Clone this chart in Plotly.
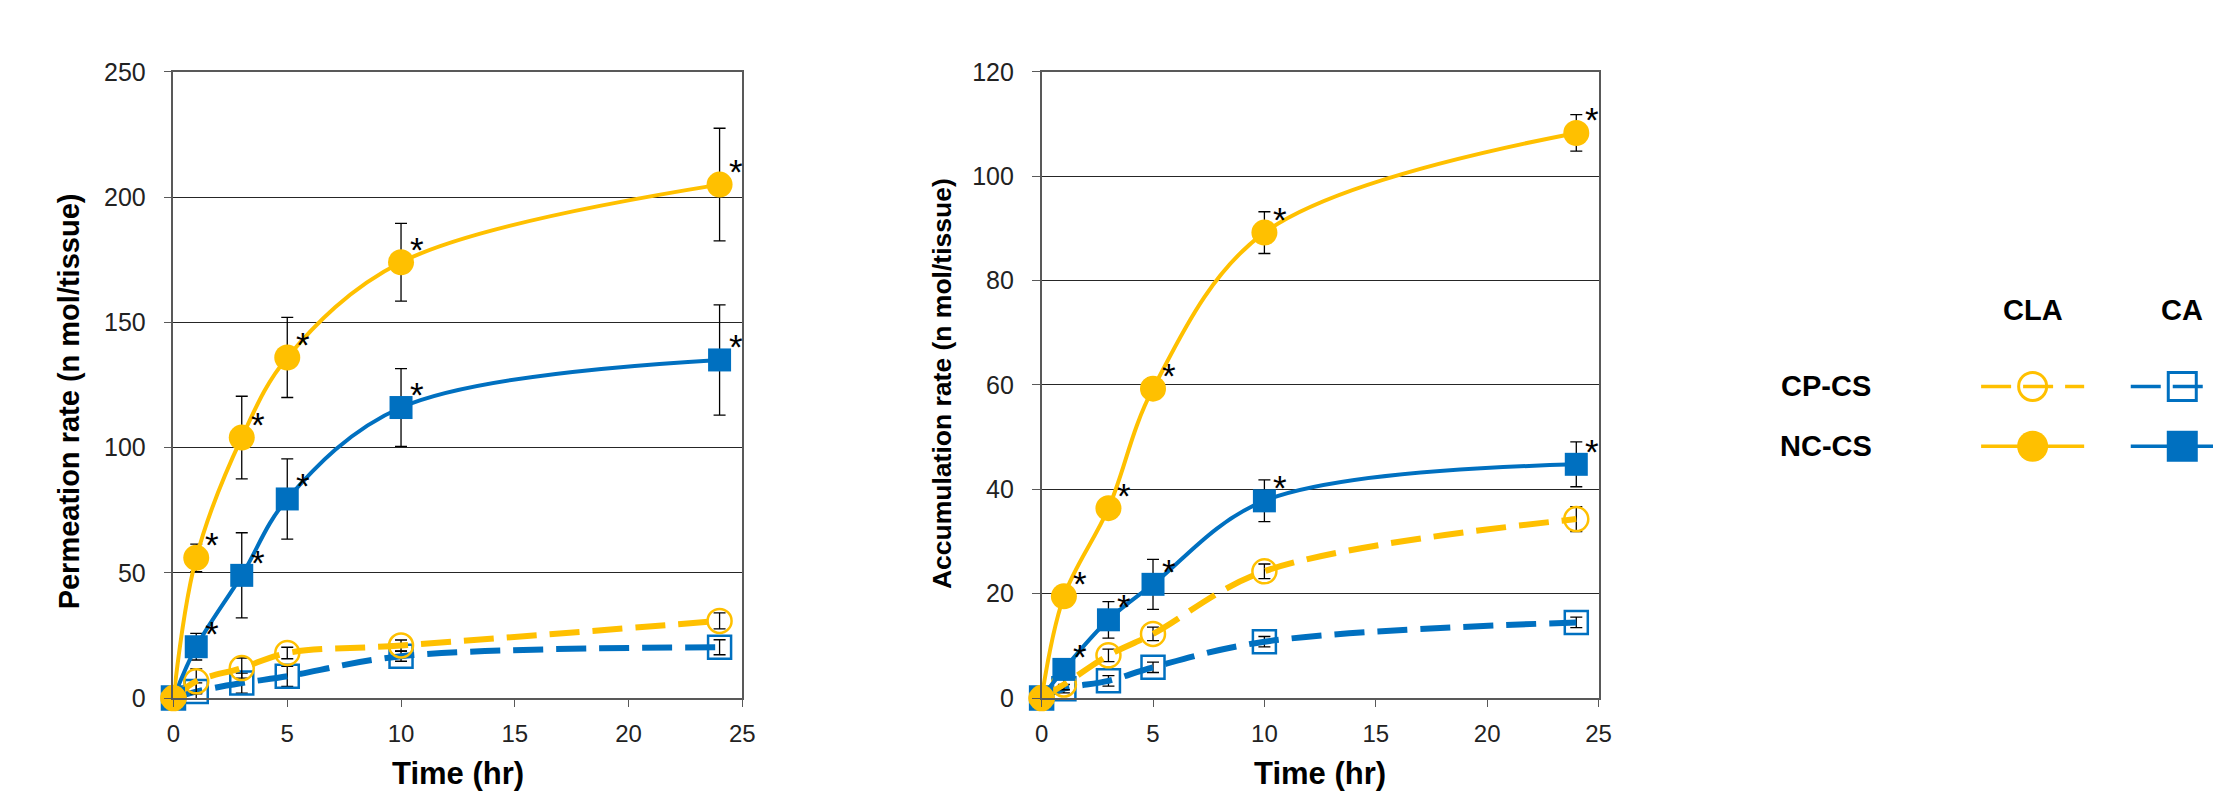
import plotly.graph_objects as go

# ---------------- data ----------------
time_hr = [0, 1, 3, 5, 10, 24]

# Permeation rate (n mol/tissue)
perm_cla_nc = [0, 56, 104, 136, 174, 205]
perm_cla_nc_err = [0, 5.5, 16.5, 16, 15.5, 22.5]
perm_ca_nc = [0, 20.5, 49, 79.5, 116, 135]
perm_ca_nc_err = [0, 5.3, 17, 16, 15.5, 22]
perm_cla_cp = [0, 6.7, 12, 18, 21, 30.8]
perm_cla_cp_err = [0, 5, 4, 2.3, 2.2, 3.2]
perm_ca_cp = [0, 2.6, 6, 8.7, 16.7, 20.3]
perm_ca_cp_err = [0, 3.5, 4, 4, 2, 3]

# Accumulation rate (n mol/tissue)
acc_cla_nc = [0, 19.5, 36.4, 59.3, 89.2, 108.3]
acc_cla_nc_err = [0, 1, 1, 2, 4, 3.5]
acc_ca_nc = [0, 5.5, 15, 21.8, 37.8, 44.8]
acc_ca_nc_err = [0, 1, 3.5, 4.8, 4, 4.3]
acc_cla_cp = [0, 2.6, 8.2, 12.3, 24.3, 34.3]
acc_cla_cp_err = [0, 1, 1.2, 1.3, 1.4, 2.4]
acc_ca_cp = [0, 1.8, 3.3, 5.9, 10.8, 14.5]
acc_ca_cp_err = [0, 0.8, 1, 1, 1, 1]

# significance markers (*) on NC-CS points
sig_flags = [False, True, True, True, True, True]

x_ticks = [0, 5, 10, 15, 20, 25]
perm_ticks = [0, 50, 100, 150, 200, 250]
acc_ticks = [0, 20, 40, 60, 80, 100, 120]

row_labels = ["CP-CS", "NC-CS"]
col_labels = ["CLA", "CA"]

# ---------------- styles ----------------
W, H = 2226, 797
YELLOW = "#FFC000"
BLUE = "#0070C0"
AXIS_COL = "#595959"
GRID_COL = "#262626"
SANS = "Liberation Sans, Arial, sans-serif"
NARROW = "Liberation Sans Narrow, Arial Narrow, Liberation Sans, Arial, sans-serif"
LEG_X0 = 1700


def pxx(p):
    return p / W


def pxy(p):
    return 1 - p / H


def err(arr):
    return dict(type="data", array=arr, color="black", thickness=1.3, width=6, visible=True)


def series(x, y, e, color, dashed, filled, symbol, xa, ya, size):
    if filled:
        marker = dict(symbol=symbol, size=size, color=color, line=dict(width=0))
    else:
        marker = dict(symbol=symbol + "-open", size=size - 2, color=color, line=dict(width=2.5, color=color))
    line = dict(color=color, shape="spline", smoothing=1,
                width=6 if dashed else 4, dash="30px,13px" if dashed else "solid")
    return go.Scatter(x=x, y=y, error_y=err(e), mode="lines+markers", line=line, marker=marker,
                      xaxis=xa, yaxis=ya, cliponaxis=False, showlegend=False, hoverinfo="skip")


fig = go.Figure()

panels = [
    ("x", "y", perm_ca_cp, perm_ca_cp_err, perm_cla_cp, perm_cla_cp_err,
     perm_ca_nc, perm_ca_nc_err, perm_cla_nc, perm_cla_nc_err),
    ("x2", "y2", acc_ca_cp, acc_ca_cp_err, acc_cla_cp, acc_cla_cp_err,
     acc_ca_nc, acc_ca_nc_err, acc_cla_nc, acc_cla_nc_err),
]

annotations = []
for xa, ya, cacp, cacpe, clacp, clacpe, canc, cance, clanc, clance in panels:
    fig.add_trace(series(time_hr, cacp, cacpe, BLUE, True, False, "square", xa, ya, 25))
    fig.add_trace(series(time_hr, clacp, clacpe, YELLOW, True, False, "circle", xa, ya, 26))
    fig.add_trace(series(time_hr, canc, cance, BLUE, False, True, "square", xa, ya, 23))
    fig.add_trace(series(time_hr, clanc, clance, YELLOW, False, True, "circle", xa, ya, 26))
    for ys in (canc, clanc):
        for xv, yv, s in zip(time_hr, ys, sig_flags):
            if s:
                annotations.append(dict(x=xv, y=yv, xref=xa, yref=ya, text="*", showarrow=False,
                                        xshift=16, yshift=13,
                                        font=dict(family=SANS, size=35, color="black")))

# ---------------- legend (custom grid) ----------------
leg_col_x = [2044, 2195]
leg_row_y = [386, 448]
leg_half = [52, 52]
leg_colors = [YELLOW, BLUE]
leg_symbols = ["circle", "square"]
for ci in range(2):
    for ri in range(2):
        cx = leg_col_x[ci]
        cy = leg_row_y[ri]
        dashed = ri == 0
        if dashed:
            marker = dict(symbol=leg_symbols[ci] + "-open", size=28, color=leg_colors[ci],
                          line=dict(width=3, color=leg_colors[ci]))
        else:
            marker = dict(symbol=leg_symbols[ci], size=31, color=leg_colors[ci], line=dict(width=0))
        fig.add_trace(go.Scatter(x=[cx - leg_half[ci], cx + leg_half[ci]], y=[cy, cy], mode="lines",
                                 line=dict(color=leg_colors[ci], width=3.5,
                                           dash="30px,12px" if dashed else "solid"),
                                 xaxis="x3", yaxis="y3", cliponaxis=False, showlegend=False, hoverinfo="skip"))
        fig.add_trace(go.Scatter(x=[cx], y=[cy], mode="markers", marker=marker,
                                 xaxis="x3", yaxis="y3", cliponaxis=False, showlegend=False, hoverinfo="skip"))

for lbl, cx in zip(col_labels, leg_col_x):
    annotations.append(dict(x=pxx(cx), y=pxy(307), xref="paper", yref="paper", text=lbl, showarrow=False,
                            xanchor="center", yanchor="middle",
                            font=dict(family=SANS, size=29, color="black", weight="bold")))
for lbl, cy in zip(row_labels, leg_row_y):
    annotations.append(dict(x=pxx(1835), y=pxy(cy), xref="paper", yref="paper", text=lbl, showarrow=False,
                            xanchor="center", yanchor="middle",
                            font=dict(family=SANS, size=29, color="black", weight="bold")))

# ---------------- axis titles ----------------
annotations += [
    dict(x=pxx(62), y=pxy(401), xref="paper", yref="paper", text="Permeation rate (n mol/tissue)",
         textangle=-90, showarrow=False, xanchor="center", yanchor="middle",
         font=dict(family=SANS, size=29, color="black", weight="bold")),
    dict(x=pxx(943), y=pxy(383), xref="paper", yref="paper", text="Accumulation rate (n mol/tissue)",
         textangle=-90, showarrow=False, xanchor="center", yanchor="middle",
         font=dict(family=SANS, size=26.5, color="black", weight="bold")),
    dict(x=pxx(455), y=pxy(787), xref="paper", yref="paper", text="Time (hr)",
         showarrow=False, xanchor="center", yanchor="middle",
         font=dict(family=NARROW, size=31, color="black", weight="bold")),
    dict(x=pxx(1325), y=pxy(787), xref="paper", yref="paper", text="Time (hr)",
         showarrow=False, xanchor="center", yanchor="middle",
         font=dict(family=NARROW, size=31, color="black", weight="bold")),
]


def xaxis_def(dom, anchor):
    return dict(domain=dom, anchor=anchor, range=[0, 25], tickvals=x_ticks, ticks="outside", ticklen=7,
                tickwidth=1.3, tickcolor=AXIS_COL, showline=True, linecolor=AXIS_COL, linewidth=1.5,
                mirror=True, showgrid=False, zeroline=False, ticklabelstandoff=6,
                tickfont=dict(family=NARROW, size=24, color="#222222"), fixedrange=True)


def yaxis_def(dom, anchor, rng, ticks):
    return dict(domain=dom, anchor=anchor, range=rng, tickvals=ticks, ticks="outside", ticklen=8,
                tickwidth=1.3, tickcolor=AXIS_COL, showline=True, linecolor=AXIS_COL, linewidth=1.5,
                mirror=True, showgrid=True, gridcolor=GRID_COL, gridwidth=1.3, zeroline=False,
                ticklabelstandoff=13, tickfont=dict(family=SANS, size=25, color="#222222"), fixedrange=True)


ydom = [pxy(709), pxy(60)]
fig.update_layout(
    width=W, height=H,
    margin=dict(l=0, r=0, t=0, b=0),
    paper_bgcolor="white", plot_bgcolor="rgba(0,0,0,0)",
    xaxis=xaxis_def([pxx(168), pxx(742)], "y"),
    yaxis=yaxis_def(ydom, "x", [0, 250], perm_ticks),
    xaxis2=xaxis_def([pxx(1044), pxx(1606)], "y2"),
    yaxis2=yaxis_def(ydom, "x2", [0, 120], acc_ticks),
    xaxis3=dict(domain=[pxx(LEG_X0), 1], anchor="y3", range=[LEG_X0, W], visible=False, fixedrange=True),
    yaxis3=dict(domain=[0, 1], anchor="x3", range=[H, 0], visible=False, fixedrange=True),
    annotations=annotations,
    showlegend=False,
)

fig.write_html("out.html", config={"displayModeBar": False},
               post_script="document.body.style.margin='0';document.body.style.overflow='hidden';")
